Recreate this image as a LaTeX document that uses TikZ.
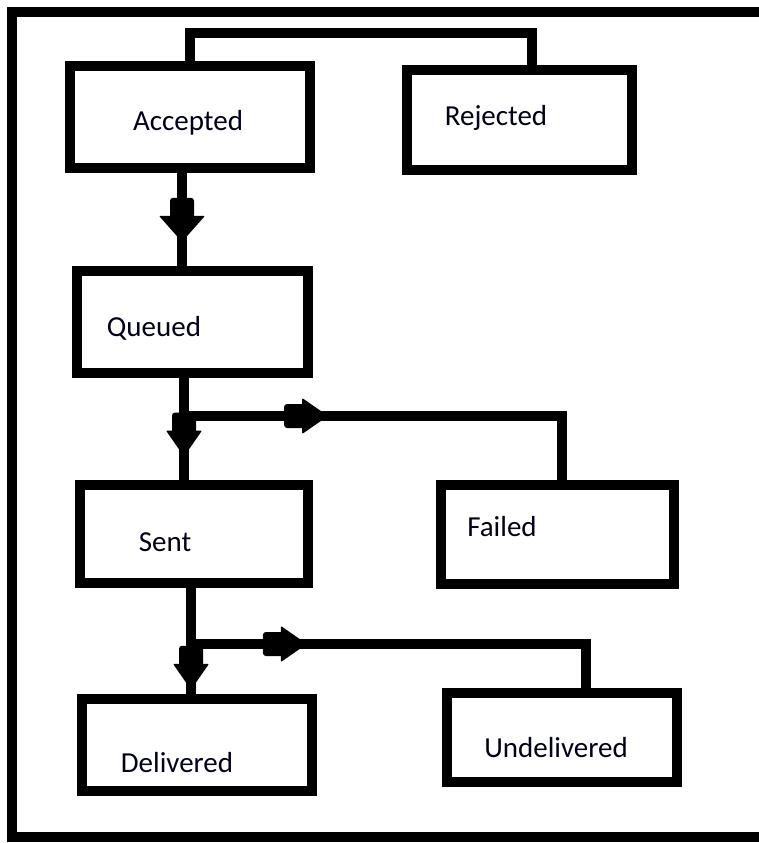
\documentclass[tikz,border=0pt]{standalone}
\usepackage{fontspec}
\setmainfont{Carlito}
\usetikzlibrary{decorations.markings}
\tikzset{
  box/.style={draw, line width=10pt, inner sep=0pt},
  lbl/.style={font=\fontsize{29}{34}\selectfont, text=black!90!blue},
  wire/.style={line width=10pt},
  midarrow/.style 2 args={postaction={decorate}, decoration={markings,
    mark=at position #1 with {
      \fill[rounded corners=3pt] (-44pt,-12pt) rectangle (-20pt,12pt);
      \fill[rounded corners=1pt] (-26pt,-#2) -- (0pt,0pt) -- (-26pt,#2) -- cycle;}}}
}
\begin{document}
\begin{tikzpicture}[x=1pt,y=-1pt]
\useasboundingbox (0,0) rectangle (759,843);
\clip (0,0) rectangle (759,843);
% outer frame
\draw[line width=10pt] (775,12) -- (12,12) -- (12,837) -- (775,837);
% states
\node[box, minimum width=240pt, minimum height=102pt] (accepted) at (190,117) {};
\node[box, minimum width=225pt, minimum height=100pt] (rejected) at (519.5,120) {};
\node[box, minimum width=231pt, minimum height=102pt] (queued) at (192.5,322) {};
\node[box, minimum width=228pt, minimum height=98pt] (sent) at (194,534) {};
\node[box, minimum width=233pt, minimum height=99pt] (failed) at (557.5,534.5) {};
\node[box, minimum width=230pt, minimum height=92pt] (delivered) at (197,745) {};
\node[box, minimum width=230pt, minimum height=89pt] (undelivered) at (562,737.5) {};
% texts
\node[lbl] (acceptedtxt) at (188,123) {Accepted};
\node[lbl] (rejectedtxt) at (496,118) {Rejected};
\node[lbl] (queuedtxt) at (154,328) {Queued};
\node[lbl] (senttxt) at (165,542) {Sent};
\node[lbl] (failedtxt) at (502,527) {Failed};
\node[lbl] (deliveredtxt) at (177,763) {Delivered};
\node[lbl] (undeliveredtxt) at (556,748) {Undelivered};
% connectors
\coordinate (tl) at (190,33);
\coordinate (tr) at (532,33);
\draw[wire] (accepted.north) -- (tl) -- (tr) -- (tr |- rejected.north);
\draw[wire, midarrow={0.74}{23pt}] (accepted.south -| 182,0) -- (queued.north -| 182,0);
\draw[wire, midarrow={0.77}{18pt}] (queued.south -| 184,0) -- (sent.north -| 184,0);
\coordinate (qbr) at (184,416);
\coordinate (qcr) at (562,416);
\draw[wire, midarrow={0.326}{18pt}] (qbr) -- (qcr) -- (qcr |- failed.north);
\draw[wire, midarrow={0.96}{18pt}] (sent.south -| 191,0) -- (delivered.north -| 191,0);
\coordinate (sbr) at (191,644);
\coordinate (scr) at (586,644);
\draw[wire, midarrow={0.264}{18pt}] (sbr) -- (scr) -- (scr |- undelivered.north);
\end{tikzpicture}
\end{document}
